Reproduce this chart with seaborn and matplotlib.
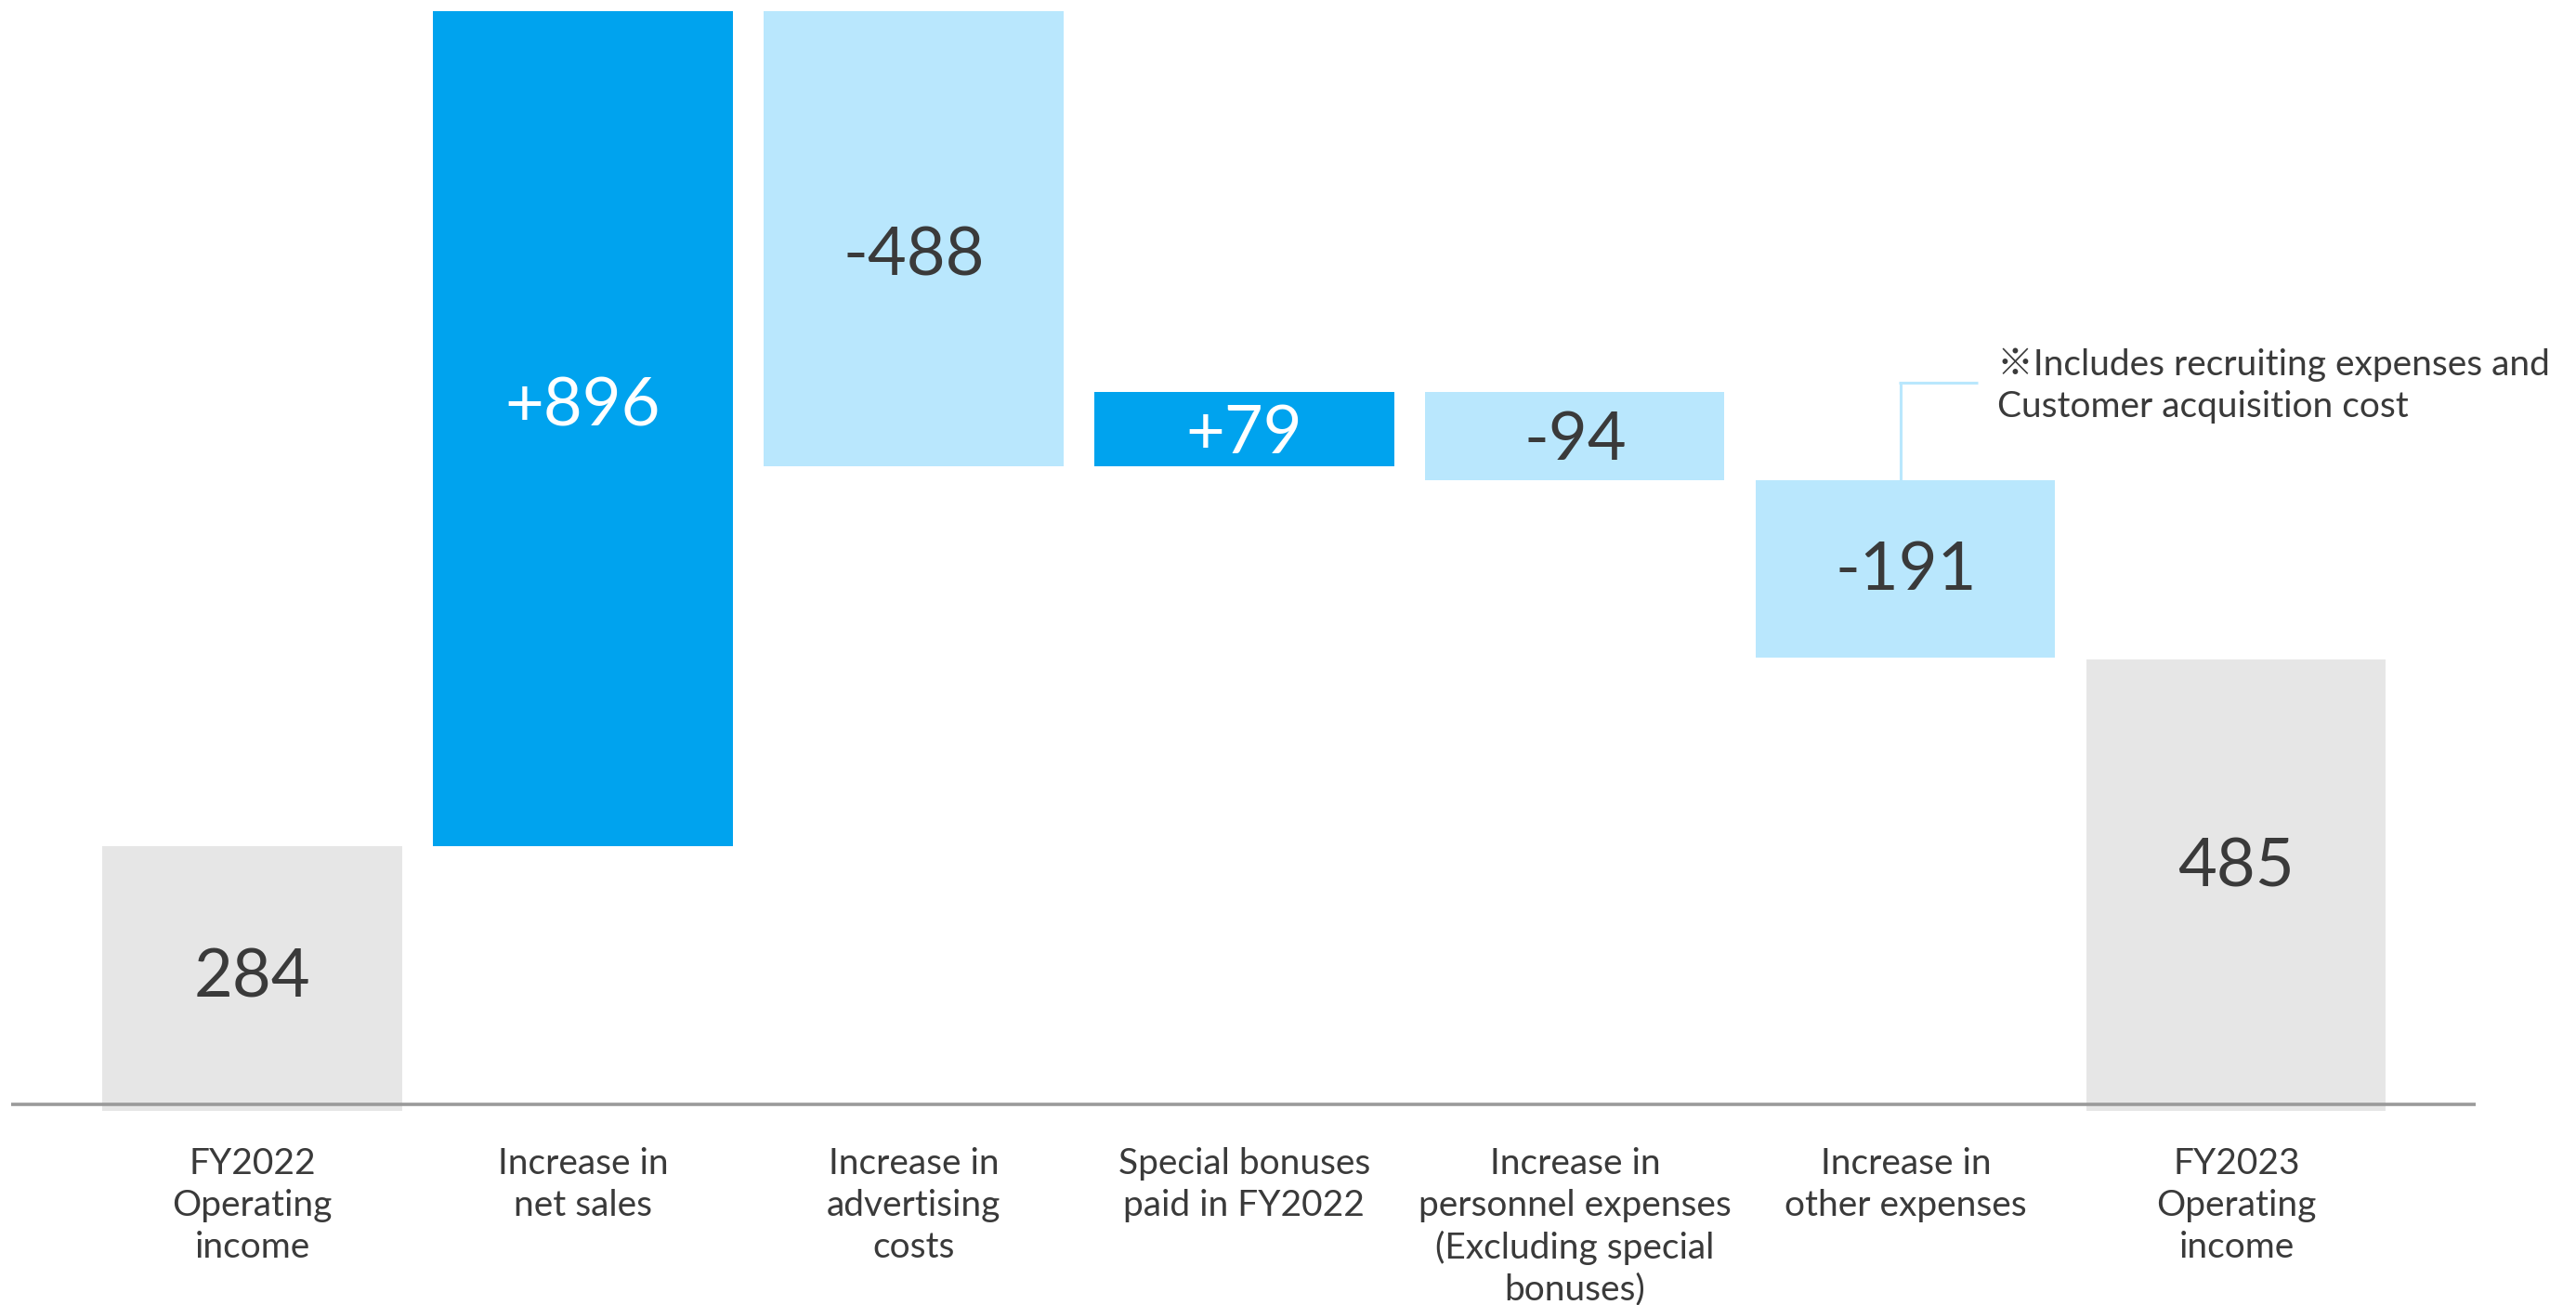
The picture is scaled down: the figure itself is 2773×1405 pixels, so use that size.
import matplotlib
matplotlib.use("Agg")
import matplotlib.pyplot as plt
import seaborn as sns
import numpy as np

# Operating income bridge FY2022 -> FY2023 (millions of yen)
categories = [
    "FY2022\nOperating\nincome",
    "Increase in\nnet sales",
    "Increase in\nadvertising\ncosts",
    "Special bonuses\npaid in FY2022",
    "Increase in\npersonnel expenses\n(Excluding special\nbonuses)",
    "Increase in\nother expenses",
    "FY2023\nOperating\nincome",
]
start_value = 284
changes = [896, -488, 79, -94, -191]
end_value = 485
value_labels = ["284", "+896", "-488", "+79", "-94", "-191", "485"]
note_text = "※Includes recruiting expenses and\nCustomer acquisition cost"

# floating bar geometry from the running total
bottoms = [0]
heights = [start_value]
running = start_value
for d in changes:
    lo = min(running, running + d)
    bottoms.append(lo)
    heights.append(abs(d))
    running += d
bottoms.append(0)
heights.append(end_value)

GREY = "#E6E6E6"
DARK = "#00A3EE"
LIGHT = "#B9E7FD"
TEXT = "#3A3A3A"
bar_colors = [GREY] + [DARK if d > 0 else LIGHT for d in changes] + [GREY]
label_colors = ["white" if c == DARK else TEXT for c in bar_colors]
label_nudge = [1, 24, -19, -5, -5, -2, 19]

sns.set_theme(style="white")
plt.rcParams["font.family"] = ["Lato", "DejaVu Sans"]

fig = plt.figure(figsize=(27.73, 14.05), dpi=100)
ax = fig.add_axes([0, 0.1486, 1, 0.8514])

sns.barplot(x=categories, y=heights, bottom=bottoms, order=categories,
            color=GREY, saturation=1, width=0.905, errorbar=None,
            linewidth=0, ax=ax)
for patch, c in zip(ax.patches, bar_colors):
    patch.set_facecolor(c)
    patch.set_edgecolor("none")

ax.set_xlim(-0.7625, 7.027)
ax.set_ylim(0, 1192)

# value labels centred in each bar
for i, (b, h, txt, col, nud) in enumerate(zip(bottoms, heights, value_labels,
                                              label_colors, label_nudge)):
    ax.text(i, b + h / 2 + nud, txt, ha="center", va="center",
            fontsize=52, fontweight="normal", color=col)

# baseline
ax.hlines(7, -0.728, 6.724, color="#9A9A9A", linewidth=2.6, zorder=5,
          clip_on=False)

# note with connector to the other-expenses bar
other_idx = 5
ax.plot([other_idx - 0.015, other_idx - 0.015], [781, bottoms[other_idx] + heights[other_idx]],
        color=LIGHT, linewidth=2.2, solid_capstyle="butt")
ax.plot([other_idx - 0.02, other_idx + 0.218], [781, 781],
        color=LIGHT, linewidth=2.2, solid_capstyle="butt")
ax.text(5.278, 778, note_text, ha="left", va="center", fontsize=28,
        fontweight="normal", color=TEXT, linespacing=1.3,
        family=["Lato", "Noto Sans CJK JP", "DejaVu Sans"])

ax.set_xticks(range(len(categories)))
ax.set_xticklabels(categories, fontsize=28, fontweight="normal", color=TEXT,
                   linespacing=1.3)
ax.tick_params(axis="x", length=0, pad=28)
ax.set_yticks([])
ax.set_xlabel("")
ax.set_ylabel("")
sns.despine(ax=ax, left=True, bottom=True)

fig.savefig("out.png", dpi=100, facecolor="white")
